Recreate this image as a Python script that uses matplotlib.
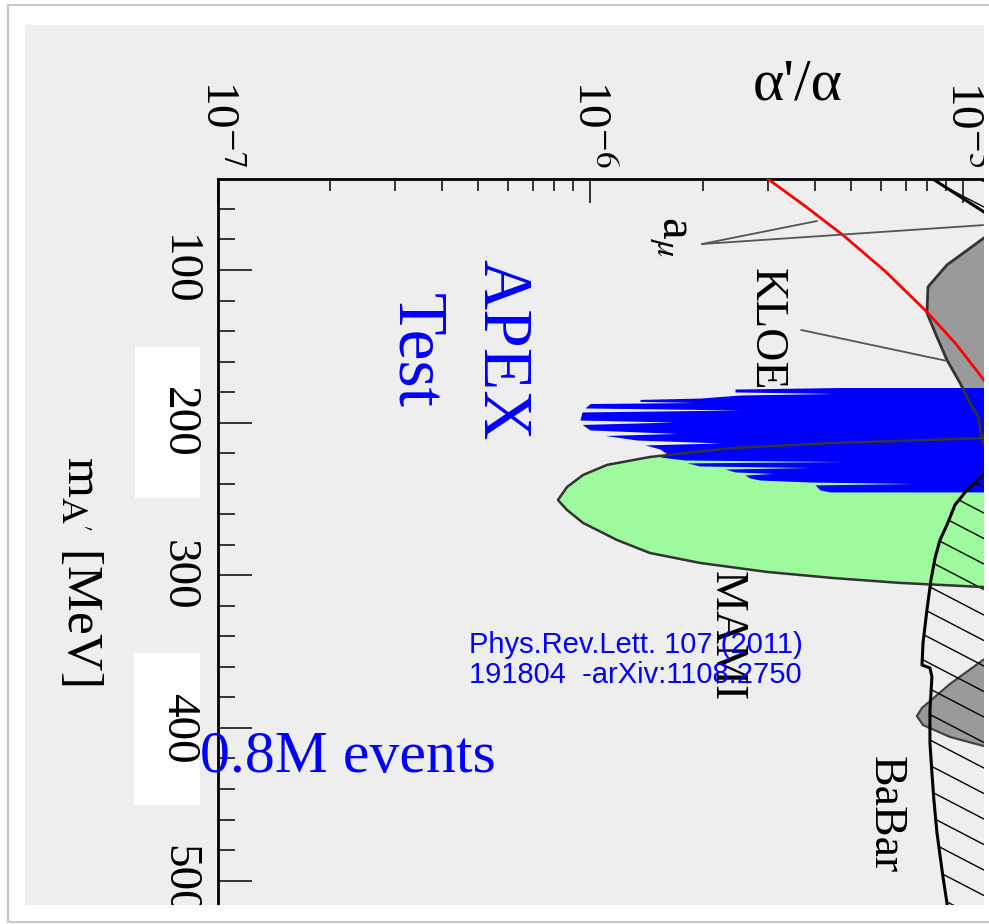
import numpy as np
import matplotlib
matplotlib.use('Agg')
import matplotlib.pyplot as plt
from matplotlib.patches import Polygon, Rectangle
from matplotlib.collections import LineCollection
from matplotlib.lines import Line2D
from matplotlib.ticker import MultipleLocator, LogLocator, NullFormatter

plt.rcParams['font.family'] = ['Liberation Serif', 'DejaVu Serif']
plt.rcParams['mathtext.fontset'] = 'stix'

# ---- data (mass in MeV, alpha'/alpha) ----
# a_mu (red) band edge
amu_mass = [36.5, 40.4, 58.1, 77.1, 100.7, 127.5, 148.5, 172.1, 181.9]
amu_alpha = [2.85e-6, 2.99e-6, 3.76e-6, 4.75e-6, 6.16e-6, 7.98e-6, 9.55e-6, 1.135e-5, 1.214e-5]

# KLOE excluded region (left edge)
kloe_mass = [72.5, 79.0, 96.7, 111.1, 128.2, 143.9, 159.0, 174.0, 187.1, 196.3, 209.4, 217.9]
kloe_alpha = [1.25e-5, 1.135e-5, 9.03e-6, 8.03e-6, 7.98e-6, 8.49e-6, 9.03e-6, 9.79e-6,
              1.041e-5, 1.094e-5, 1.121e-5, 1.149e-5]

# APEX test run limit (left edge, per fine mass bin)
apex_mass = [177.0, 178.0, 179.9, 180.9, 181.9, 183.9, 184.8, 186.1, 186.8, 187.5,
             190.4, 191.7, 193.0, 198.3, 199.6, 201.2, 204.8, 207.1, 208.4, 211.4,
             213.3, 214.6, 217.3, 220.5, 222.5, 224.5, 225.5, 226.4, 228.4, 229.4,
             230.4, 232.3, 233.3, 234.3, 236.3, 237.6, 238.9, 239.9, 240.8, 244.1, 245.4]
apex_alpha = [4.67e-6, 2.44e-6, 2.44e-6, 4.47e-6, 2.52e-6, 1.966e-6, 1.357e-6, 1.357e-6, 1.883e-6, 9.97e-7,
              9.67e-7, 2.52e-6, 9.49e-7, 9.37e-7, 1.664e-6, 9.49e-7, 9.97e-7, 1.706e-6, 1.094e-6, 1.332e-6,
              2.225e-6, 1.400e-6, 1.536e-6, 1.604e-6, 1.536e-6, 1.792e-6, 4.72e-6, 1.814e-6, 1.966e-6, 3.877e-6,
              2.294e-6, 2.44e-6, 3.085e-6, 2.596e-6, 2.677e-6, 2.848e-6, 3.877e-6, 7.32e-6, 4.00e-6, 4.124e-6, 4.386e-6]

# MAMI excluded region (closed outline)
mami_mass = [209.4, 210.1, 212.0, 213.3, 216.6, 222.5, 227.7, 234.3, 242.2, 250.7,
             257.2, 265.7, 276.9, 285.4, 291.9, 297.8, 301.8, 305.0, 307.7, 308.0]
mami_alpha = [1.253e-5, 1.128e-5, 6.76e-6, 4.47e-6, 2.41e-6, 1.443e-6, 1.107e-6, 9.55e-7, 8.65e-7, 8.18e-7,
              8.65e-7, 9.55e-7, 1.178e-6, 1.443e-6, 1.966e-6, 2.97e-6, 4.47e-6, 6.76e-6, 1.128e-5, 1.253e-5]

# small grey region near 400 MeV
gray2_mass = [350.2, 355.5, 371.2, 386.9, 392.2, 398.1, 405.9, 411.2, 414.4]
gray2_alpha = [1.253e-5, 1.128e-5, 9.20e-6, 7.74e-6, 7.50e-6, 7.79e-6, 9.20e-6, 1.107e-5, 1.253e-5]

# BaBar hatched region (left edge)
babar_mass = [223.2, 234.3, 244.1, 253.9, 267.0, 276.9, 288.7, 303.1, 322.7, 344.3, 358.8,
              360.7, 366.6, 388.2, 409.9, 429.5, 447.2, 468.8, 497.6, 514.7, 522.5]
babar_alpha = [1.253e-5, 1.128e-5, 1.022e-5, 9.49e-6, 9.03e-6, 8.65e-6, 8.39e-6, 8.18e-6, 7.98e-6, 7.79e-6, 7.74e-6,
               8.13e-6, 8.23e-6, 8.13e-6, 8.13e-6, 8.23e-6, 8.33e-6, 8.49e-6, 8.81e-6, 9.03e-6, 9.09e-6]

# a_e hatched corner (edge line)
ae_mass = [36, 70]
ae_alpha = [7.76e-6, 1.276e-5]

x_ticks = [1e-7, 1e-6, 1e-5]
x_ticklabels = ['10$^{-7}$', '10$^{-6}$', '10$^{-5}$']
y_ticks = [100, 200, 300, 400, 500]

FAR = 1e-4   # right-hand end of the shaded regions (off the plot)

# ---- figure ----
W, H = 989, 924
fig = plt.figure(figsize=(W / 100, H / 100), dpi=100)
fig.patch.set_facecolor('white')


def px_rect(x0, y0, x1, y1, **kw):
    return Rectangle((x0 / W, 1 - y1 / H), (x1 - x0) / W, (y1 - y0) / H,
                     transform=fig.transFigure, **kw)


fig.add_artist(px_rect(25, 25, 984, 905, fc='#eeeeee', ec='none', zorder=-3))
fig.add_artist(px_rect(135, 347, 200, 498, fc='white', ec='none', zorder=-2))
fig.add_artist(px_rect(134, 653, 200, 805, fc='white', ec='none', zorder=-2))

ax = fig.add_axes([217.5 / W, 1 - 905 / H, (984 - 217.5) / W, (905 - 179) / H])
ax.set_facecolor('none')
ax.set_xscale('log')
ax.set_xlim(1e-7, 10 ** -4.945)
ax.set_ylim(516, 40.4)

# KLOE
ax.fill_betweenx(kloe_mass, kloe_alpha, FAR, color='#9a9a9a', lw=0, zorder=1)
# MAMI
ax.add_patch(Polygon(np.column_stack([mami_alpha, mami_mass]), closed=True,
                     fc='#9dfa9d', ec='none', zorder=2))
# APEX
ax.fill_betweenx(apex_mass, apex_alpha, FAR, color='#0000ff', lw=0, zorder=3)
# grey region near 400 MeV
ax.add_patch(Polygon(np.column_stack([gray2_alpha, gray2_mass]), closed=True,
                     fc='#9a9a9a', ec='#444444', lw=1.6, zorder=3))

# hatched regions: lines clipped to the region outlines
Wax, Hax = 984 - 217.5, 905 - 179
slope = 0.52 * Wax / Hax
step = 25.5 / Hax
segs = [[(0, v0), (1, v0 - slope)] for v0 in np.arange(0, 1 + slope + step, step)]

babar_poly = Polygon(np.column_stack([babar_alpha + [FAR, FAR],
                                      babar_mass + [babar_mass[-1], babar_mass[0]]]),
                     closed=True, fc='none', ec='none', zorder=4)
ae_poly = Polygon(np.column_stack([ae_alpha + [FAR, FAR], ae_mass + [ae_mass[-1], ae_mass[0]]]),
                  closed=True, fc='none', ec='none', zorder=4)
for poly in (babar_poly, ae_poly):
    ax.add_patch(poly)
    lc = LineCollection(segs, colors='black', linewidths=1.0, transform=ax.transAxes, zorder=4)
    ax.add_collection(lc)
    lc.set_clip_path(poly)

# outlines
ax.plot(kloe_alpha, kloe_mass, color='#333333', lw=2, zorder=5)
ax.plot(mami_alpha, mami_mass, color='#333333', lw=1.8, zorder=5)
ax.plot(babar_alpha, babar_mass, color='black', lw=2.2, zorder=6)
ax.plot(ae_alpha, ae_mass, color='black', lw=2.2, zorder=6)
ax.plot(amu_alpha, amu_mass, color='red', lw=2, zorder=7)

# labels inside the plot
ax.text(2.955e-6, 138.7, 'KLOE', rotation=-90, ha='center', va='center', fontsize=33, zorder=8)
ax.text(2.31e-6, 339.8, 'MAMI', rotation=-90, ha='center', va='center', fontsize=33, zorder=8)
ax.text(6.16e-6, 457.0, 'BaBar', rotation=-90, ha='center', va='center', fontsize=33, zorder=8)
ax.text(1.62e-6, 77.7, r'a$_{\mu}$', rotation=-90, ha='center', va='center', fontsize=35, zorder=8)
ax.text(4.41e-7, 152.4, 'APEX\nTest', rotation=-90, ha='center', va='center', fontsize=50,
        color='#0000ff', linespacing=1.45, multialignment='center', zorder=8)

lead = dict(arrowstyle='-', color='#555555', lw=1.3, shrinkA=0, shrinkB=0)
ax.annotate('', xy=(4.05e-6, 67.9), xytext=(1.99e-6, 83.0), arrowprops=lead, zorder=8)
ax.annotate('', xy=(1.13e-5, 70.6), xytext=(1.99e-6, 83.0), arrowprops=lead, zorder=8,
            annotation_clip=False)
ax.annotate('', xy=(9.03e-6, 159.6), xytext=(3.67e-6, 139.3), arrowprops=lead, zorder=8)

# axes styling
for side in ('right', 'bottom'):
    ax.spines[side].set_visible(False)
for side in ('left', 'top'):
    ax.spines[side].set_linewidth(2)
    ax.spines[side].set_color('black')

ax.xaxis.tick_top()
ax.set_xticks(x_ticks)
ax.set_xticklabels(x_ticklabels)
ax.xaxis.set_minor_locator(LogLocator(base=10, subs=np.arange(2, 10)))
ax.xaxis.set_minor_formatter(NullFormatter())
ax.tick_params(axis='x', which='major', direction='in', length=17, width=1.4, color='#333333',
               top=True, bottom=False, labeltop=True, labelbottom=False, labelsize=34,
               labelrotation=-90, pad=8)
ax.tick_params(axis='x', which='minor', direction='in', length=8.6, width=1.4, color='#333333',
               top=True, bottom=False)

ax.set_yticks(y_ticks)
ax.set_yticklabels([str(v) for v in y_ticks])
ax.yaxis.set_minor_locator(MultipleLocator(20))
ax.tick_params(axis='y', which='major', direction='in', length=24.5, width=1.4, color='#333333',
               left=True, right=False, labelsize=34, labelrotation=-90, pad=13)
ax.tick_params(axis='y', which='minor', direction='in', length=12.2, width=1.4, color='#333333',
               left=True, right=False)
for lbl in ax.get_yticklabels():
    lbl.set_va('center')

ax.xaxis.set_label_position('top')
ax.set_xlabel("\u03b1'/\u03b1", fontsize=43)
ax.xaxis.set_label_coords((798 - 217.5) / Wax, (905 - 100) / Hax)
ax.xaxis.label.set_va('baseline')
ax.xaxis.label.set_ha('center')

ax.set_ylabel(r"m$_{\mathrm{A'}}$ [MeV]", fontsize=37, rotation=-90)
ax.yaxis.set_label_coords((80 - 217.5) / Wax, (905 - 571) / Hax)
ax.yaxis.label.set_va('center')
ax.yaxis.label.set_ha('center')

# overlay notes
fig.text(469 / W, 1 - 631 / H, 'Phys.Rev.Lett. 107 (2011)\n191804  -arXiv:1108.2750',
         family=['Liberation Sans', 'DejaVu Sans'], fontsize=21, color='#0000ff',
         ha='left', va='top', linespacing=1.1, zorder=8)
fig.text(200 / W, 1 - 772 / H, '0.8M events', fontsize=43, color='#0000ff',
         ha='left', va='baseline', zorder=8)

# crop edges and thin frame
fig.add_artist(px_rect(984, 0, 989, 924, fc='white', ec='none', zorder=10))
fig.add_artist(px_rect(0, 905, 989, 924, fc='white', ec='none', zorder=10))
for xs, ys in (([8, 8], [5, 922]), ([8, 989], [5, 5]), ([8, 989], [922, 922])):
    fig.add_artist(Line2D([x / W for x in xs], [1 - y / H for y in ys], transform=fig.transFigure,
                          color='#c8c8c8', lw=1.5, zorder=11))

fig.savefig('out.png', dpi=100, facecolor='white')
